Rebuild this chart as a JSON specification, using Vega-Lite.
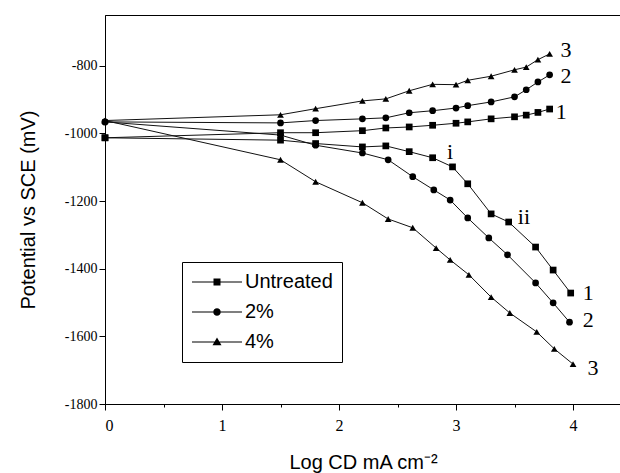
{
  "$schema": "https://vega.github.io/schema/vega-lite/v6.json",
  "autosize": {"type": "none"},
  "width": 516,
  "height": 389,
  "padding": {"left": 105, "top": 15, "right": 0, "bottom": 69},
  "background": "white",
  "config": {
    "view": {"stroke": "black", "strokeWidth": 1},
    "axis": {"domainColor": "black", "tickColor": "black", "grid": false, "labelColor": "black", "titleColor": "black", "labelFont": "Liberation Serif", "titleFont": "Liberation Sans", "titleFontWeight": "normal"}
  },
  "datasets": {
    "curves": [
      {"s": "Untreated", "b": "a", "x": 0, "y": -1013},
      {"s": "Untreated", "b": "a", "x": 1.5, "y": -998},
      {"s": "Untreated", "b": "a", "x": 1.8, "y": -998},
      {"s": "Untreated", "b": "a", "x": 2.2, "y": -992},
      {"s": "Untreated", "b": "a", "x": 2.4, "y": -984},
      {"s": "Untreated", "b": "a", "x": 2.6, "y": -981},
      {"s": "Untreated", "b": "a", "x": 2.8, "y": -976},
      {"s": "Untreated", "b": "a", "x": 3.0, "y": -970},
      {"s": "Untreated", "b": "a", "x": 3.1, "y": -966},
      {"s": "Untreated", "b": "a", "x": 3.3, "y": -957},
      {"s": "Untreated", "b": "a", "x": 3.5, "y": -951},
      {"s": "Untreated", "b": "a", "x": 3.6, "y": -946},
      {"s": "Untreated", "b": "a", "x": 3.7, "y": -938},
      {"s": "Untreated", "b": "a", "x": 3.8, "y": -928},
      {"s": "2%", "b": "a", "x": 0, "y": -966},
      {"s": "2%", "b": "a", "x": 1.5, "y": -969},
      {"s": "2%", "b": "a", "x": 1.8, "y": -962},
      {"s": "2%", "b": "a", "x": 2.2, "y": -957},
      {"s": "2%", "b": "a", "x": 2.4, "y": -954},
      {"s": "2%", "b": "a", "x": 2.6, "y": -939},
      {"s": "2%", "b": "a", "x": 2.8, "y": -933},
      {"s": "2%", "b": "a", "x": 3.0, "y": -925},
      {"s": "2%", "b": "a", "x": 3.1, "y": -918},
      {"s": "2%", "b": "a", "x": 3.3, "y": -907},
      {"s": "2%", "b": "a", "x": 3.5, "y": -892},
      {"s": "2%", "b": "a", "x": 3.6, "y": -871},
      {"s": "2%", "b": "a", "x": 3.7, "y": -848},
      {"s": "2%", "b": "a", "x": 3.8, "y": -827},
      {"s": "4%", "b": "a", "x": 0, "y": -962},
      {"s": "4%", "b": "a", "x": 1.5, "y": -945},
      {"s": "4%", "b": "a", "x": 1.8, "y": -927},
      {"s": "4%", "b": "a", "x": 2.2, "y": -904},
      {"s": "4%", "b": "a", "x": 2.4, "y": -898},
      {"s": "4%", "b": "a", "x": 2.6, "y": -874},
      {"s": "4%", "b": "a", "x": 2.8, "y": -855},
      {"s": "4%", "b": "a", "x": 3.0, "y": -856},
      {"s": "4%", "b": "a", "x": 3.1, "y": -843},
      {"s": "4%", "b": "a", "x": 3.3, "y": -831},
      {"s": "4%", "b": "a", "x": 3.5, "y": -812},
      {"s": "4%", "b": "a", "x": 3.6, "y": -804},
      {"s": "4%", "b": "a", "x": 3.7, "y": -782},
      {"s": "4%", "b": "a", "x": 3.8, "y": -765},
      {"s": "Untreated", "b": "c", "x": 0, "y": -1013},
      {"s": "Untreated", "b": "c", "x": 1.5, "y": -1020},
      {"s": "Untreated", "b": "c", "x": 1.8, "y": -1030},
      {"s": "Untreated", "b": "c", "x": 2.2, "y": -1040},
      {"s": "Untreated", "b": "c", "x": 2.4, "y": -1037},
      {"s": "Untreated", "b": "c", "x": 2.6, "y": -1054},
      {"s": "Untreated", "b": "c", "x": 2.8, "y": -1072},
      {"s": "Untreated", "b": "c", "x": 2.97, "y": -1099},
      {"s": "Untreated", "b": "c", "x": 3.1, "y": -1149},
      {"s": "Untreated", "b": "c", "x": 3.3, "y": -1238},
      {"s": "Untreated", "b": "c", "x": 3.45, "y": -1262},
      {"s": "Untreated", "b": "c", "x": 3.68, "y": -1336},
      {"s": "Untreated", "b": "c", "x": 3.83, "y": -1404},
      {"s": "Untreated", "b": "c", "x": 3.98, "y": -1472},
      {"s": "2%", "b": "c", "x": 0, "y": -966},
      {"s": "2%", "b": "c", "x": 1.5, "y": -1005},
      {"s": "2%", "b": "c", "x": 1.8, "y": -1035},
      {"s": "2%", "b": "c", "x": 2.2, "y": -1058},
      {"s": "2%", "b": "c", "x": 2.42, "y": -1078},
      {"s": "2%", "b": "c", "x": 2.63, "y": -1128},
      {"s": "2%", "b": "c", "x": 2.81, "y": -1167},
      {"s": "2%", "b": "c", "x": 2.95, "y": -1197},
      {"s": "2%", "b": "c", "x": 3.1, "y": -1250},
      {"s": "2%", "b": "c", "x": 3.28, "y": -1309},
      {"s": "2%", "b": "c", "x": 3.44, "y": -1359},
      {"s": "2%", "b": "c", "x": 3.68, "y": -1442},
      {"s": "2%", "b": "c", "x": 3.83, "y": -1501},
      {"s": "2%", "b": "c", "x": 3.97, "y": -1558},
      {"s": "4%", "b": "c", "x": 0, "y": -962},
      {"s": "4%", "b": "c", "x": 1.5, "y": -1078},
      {"s": "4%", "b": "c", "x": 1.8, "y": -1143},
      {"s": "4%", "b": "c", "x": 2.2, "y": -1205},
      {"s": "4%", "b": "c", "x": 2.42, "y": -1253},
      {"s": "4%", "b": "c", "x": 2.63, "y": -1279},
      {"s": "4%", "b": "c", "x": 2.83, "y": -1339},
      {"s": "4%", "b": "c", "x": 2.95, "y": -1374},
      {"s": "4%", "b": "c", "x": 3.11, "y": -1418},
      {"s": "4%", "b": "c", "x": 3.3, "y": -1484},
      {"s": "4%", "b": "c", "x": 3.46, "y": -1531},
      {"s": "4%", "b": "c", "x": 3.69, "y": -1587},
      {"s": "4%", "b": "c", "x": 3.84, "y": -1637},
      {"s": "4%", "b": "c", "x": 4.0, "y": -1682}
    ],
    "labels": [
      {"t": "3", "x": 3.94, "y": -753},
      {"t": "2", "x": 3.94, "y": -830},
      {"t": "1", "x": 3.9, "y": -936},
      {"t": "1", "x": 4.13, "y": -1472},
      {"t": "2", "x": 4.13, "y": -1552},
      {"t": "3", "x": 4.17, "y": -1694},
      {"t": "i", "x": 2.95, "y": -1054},
      {"t": "ii", "x": 3.58, "y": -1247}
    ]
  },
  "resolve": {"scale": {"shape": "independent"}, "legend": {"shape": "independent"}},
  "layer": [
    {
      "data": {"name": "curves"},
      "mark": {"type": "line", "color": "#111", "strokeWidth": 1},
      "encoding": {
        "x": {"field": "x", "type": "quantitative", "scale": {"domain": [0, 4.41], "nice": false, "zero": false},
          "axis": {"values": [0, 0.5, 1, 1.5, 2, 2.5, 3, 3.5, 4], "labelExpr": "datum.value % 1 === 0 ? '' + datum.value : ''",
            "tickSize": {"condition": {"test": "datum.value % 1 === 0", "value": 6}, "value": 3},
            "labelFontSize": 16, "labelPadding": 7, "title": "Log CD mA cm⁻²", "titleFontSize": 20, "titlePadding": 19}},
        "y": {"field": "y", "type": "quantitative", "scale": {"domain": [-1800, -650], "nice": false, "zero": false},
          "axis": {"values": [-1800, -1700, -1600, -1500, -1400, -1300, -1200, -1100, -1000, -900, -800],
            "labelExpr": "datum.value % 200 === 0 ? '' + datum.value : ''",
            "tickSize": {"condition": {"test": "datum.value % 200 === 0", "value": 6}, "value": 3},
            "labelFontSize": 14, "labelPadding": 2, "title": "Potential vs SCE (mV)", "titleFontSize": 20, "titlePadding": 26}},
        "detail": [{"field": "s"}, {"field": "b"}]
      }
    },
    {
      "data": {"name": "curves"},
      "mark": {"type": "point", "filled": true, "opacity": 1, "color": "black", "size": 45},
      "encoding": {
        "x": {"field": "x", "type": "quantitative"},
        "y": {"field": "y", "type": "quantitative"},
        "shape": {"field": "s", "type": "nominal",
          "scale": {"domain": ["Untreated", "2%", "4%"], "range": ["square", "circle", "triangle-up"]},
          "legend": null}
      }
    },
    {
      "data": {"name": "curves"},
      "transform": [{"filter": "datum.x < -100"}],
      "mark": {"type": "point", "filled": true, "opacity": 1, "color": "black", "size": 2500},
      "encoding": {
        "x": {"field": "x", "type": "quantitative"},
        "y": {"field": "y", "type": "quantitative"},
        "shape": {"field": "s", "type": "nominal",
          "scale": {"domain": ["Untreated", "2%", "4%"], "range": [
            "M-1,-0.02H-0.14V0.02H-1ZM0.14,-0.02H1V0.02H0.14ZM-0.14,-0.14H0.14V0.14H-0.14Z",
            "M-1,-0.02H-0.15V0.02H-1ZM0.15,-0.02H1V0.02H0.15ZM0.15,0A0.15,0.15 0 1,1 -0.15,0A0.15,0.15 0 1,1 0.15,0Z",
            "M-1,-0.02H-0.1V0.02H-1ZM0.1,-0.02H1V0.02H0.1ZM0,-0.18L0.18,0.13H-0.18Z"]},
          "legend": {"title": null, "orient": "none", "legendX": 77, "legendY": 247,
            "strokeColor": "black", "fillColor": "white", "padding": 9,
            "labelFont": "Liberation Sans", "labelFontSize": 20, "labelColor": "black", "labelOffset": 2,
            "symbolSize": 2500, "clipHeight": 22, "rowPadding": 8, "symbolOpacity": 1,
            "symbolFillColor": "black"}
        }
      }
    },
    {
      "data": {"name": "labels"},
      "mark": {"type": "text", "font": "Liberation Serif", "fontSize": 22, "color": "black", "baseline": "middle", "align": "center"},
      "encoding": {
        "x": {"field": "x", "type": "quantitative"},
        "y": {"field": "y", "type": "quantitative"},
        "text": {"field": "t"}
      }
    }
  ]
}
